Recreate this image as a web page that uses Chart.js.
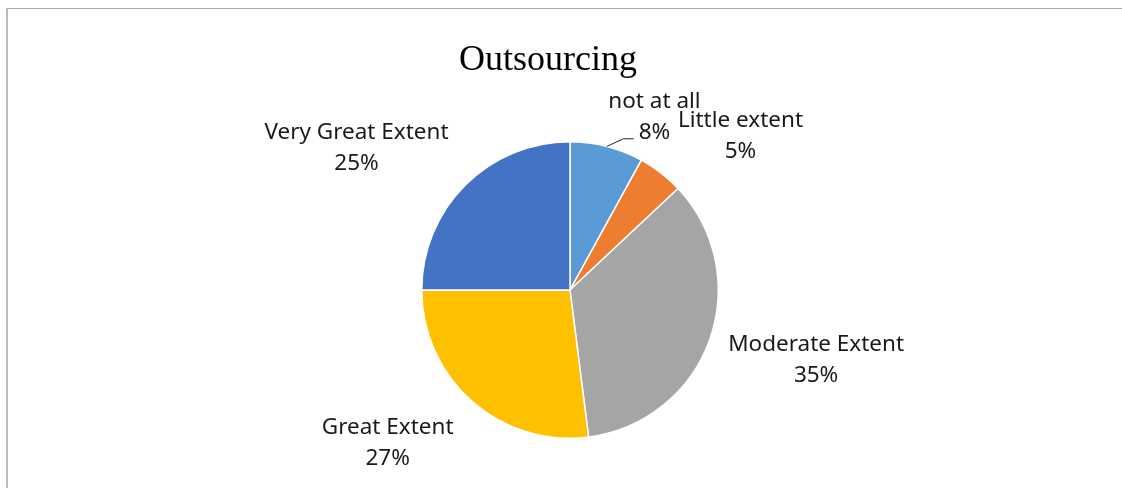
<!DOCTYPE html>
<html>
<head>
<meta charset="utf-8">
<script src="https://cdn.jsdelivr.net/npm/chart.js@4/dist/chart.umd.min.js"></script>
<style>
  html, body { margin: 0; padding: 0; background: #fff; }
  #wrap { position: relative; width: 1122px; height: 488px; }
  #frame { position: absolute; left: 6px; top: 8px; right: 0; bottom: 0;
           border-top: 1px solid #a6a6a6; border-left: 2px solid #bdbdbd; }
  canvas { position: absolute; left: 0; top: 0; }
</style>
</head>
<body>
<div id="wrap">
  <div id="frame"></div>
  <canvas id="myChart" width="1122" height="488"></canvas>
</div>
<script>
const chartTitle = 'Outsourcing';
const categories = ['not at all', 'Little extent', 'Moderate Extent', 'Great Extent', 'Very Great Extent'];
const percents = [8, 5, 35, 27, 25];
const sliceColors = ['#5B9BD5', '#ED7D31', '#A5A5A5', '#FFC000', '#4472C4'];

// where each label block sits, in units of the pie radius from the centre
const labelSpots = [[0.57, -1.17], [1.15, -1.04], [1.66, 0.47], [-1.23, 1.03], [-1.44, -0.96]];

const labelFont = '22.5px "Noto Sans", "Open Sans", sans-serif';

const pieLabels = {
  id: 'pieLabels',
  afterDraw(chart) {
    const ctx = chart.ctx;
    const arcs = chart.getDatasetMeta(0).data;
    const cx = arcs[0].x, cy = arcs[0].y, r = arcs[0].outerRadius;

    ctx.save();
    // title
    ctx.fillStyle = '#000';
    ctx.font = '36px "Liberation Serif", "Times New Roman", serif';
    ctx.textAlign = 'center';
    ctx.textBaseline = 'middle';
    ctx.fillText(chartTitle, 548, 61);

    ctx.font = labelFont;
    ctx.fillStyle = '#1a1a1a';
    arcs.forEach((arc, i) => {
      const x = cx + labelSpots[i][0] * r;
      const y = cy + labelSpots[i][1] * r;
      ctx.fillText(categories[i], x, y - 15);
      ctx.fillText(percents[i] + '%', x, y + 16);
    });

    // leader line for the small first slice
    const a = arcs[0];
    const mid = (a.startAngle + a.endAngle) / 2;
    ctx.strokeStyle = '#222';
    ctx.lineWidth = 1;
    ctx.beginPath();
    ctx.moveTo(cx + Math.cos(mid) * r, cy + Math.sin(mid) * r);
    ctx.lineTo(cx + 0.36 * r, cy - 1.02 * r);
    ctx.lineTo(cx + 0.43 * r, cy - 1.02 * r);
    ctx.stroke();
    ctx.restore();
  }
};

new Chart(document.getElementById('myChart'), {
  type: 'pie',
  data: {
    labels: categories,
    datasets: [{
      data: percents,
      backgroundColor: sliceColors,
      borderColor: '#ffffff',
      borderWidth: 1.5
    }]
  },
  options: {
    responsive: false,
    animation: false,
    layout: { padding: { top: 141, bottom: 49, left: 18, right: 0 } },
    plugins: {
      legend: { display: false },
      tooltip: { enabled: false },
      title: { display: false }
    }
  },
  plugins: [pieLabels]
});
</script>
</body>
</html>
